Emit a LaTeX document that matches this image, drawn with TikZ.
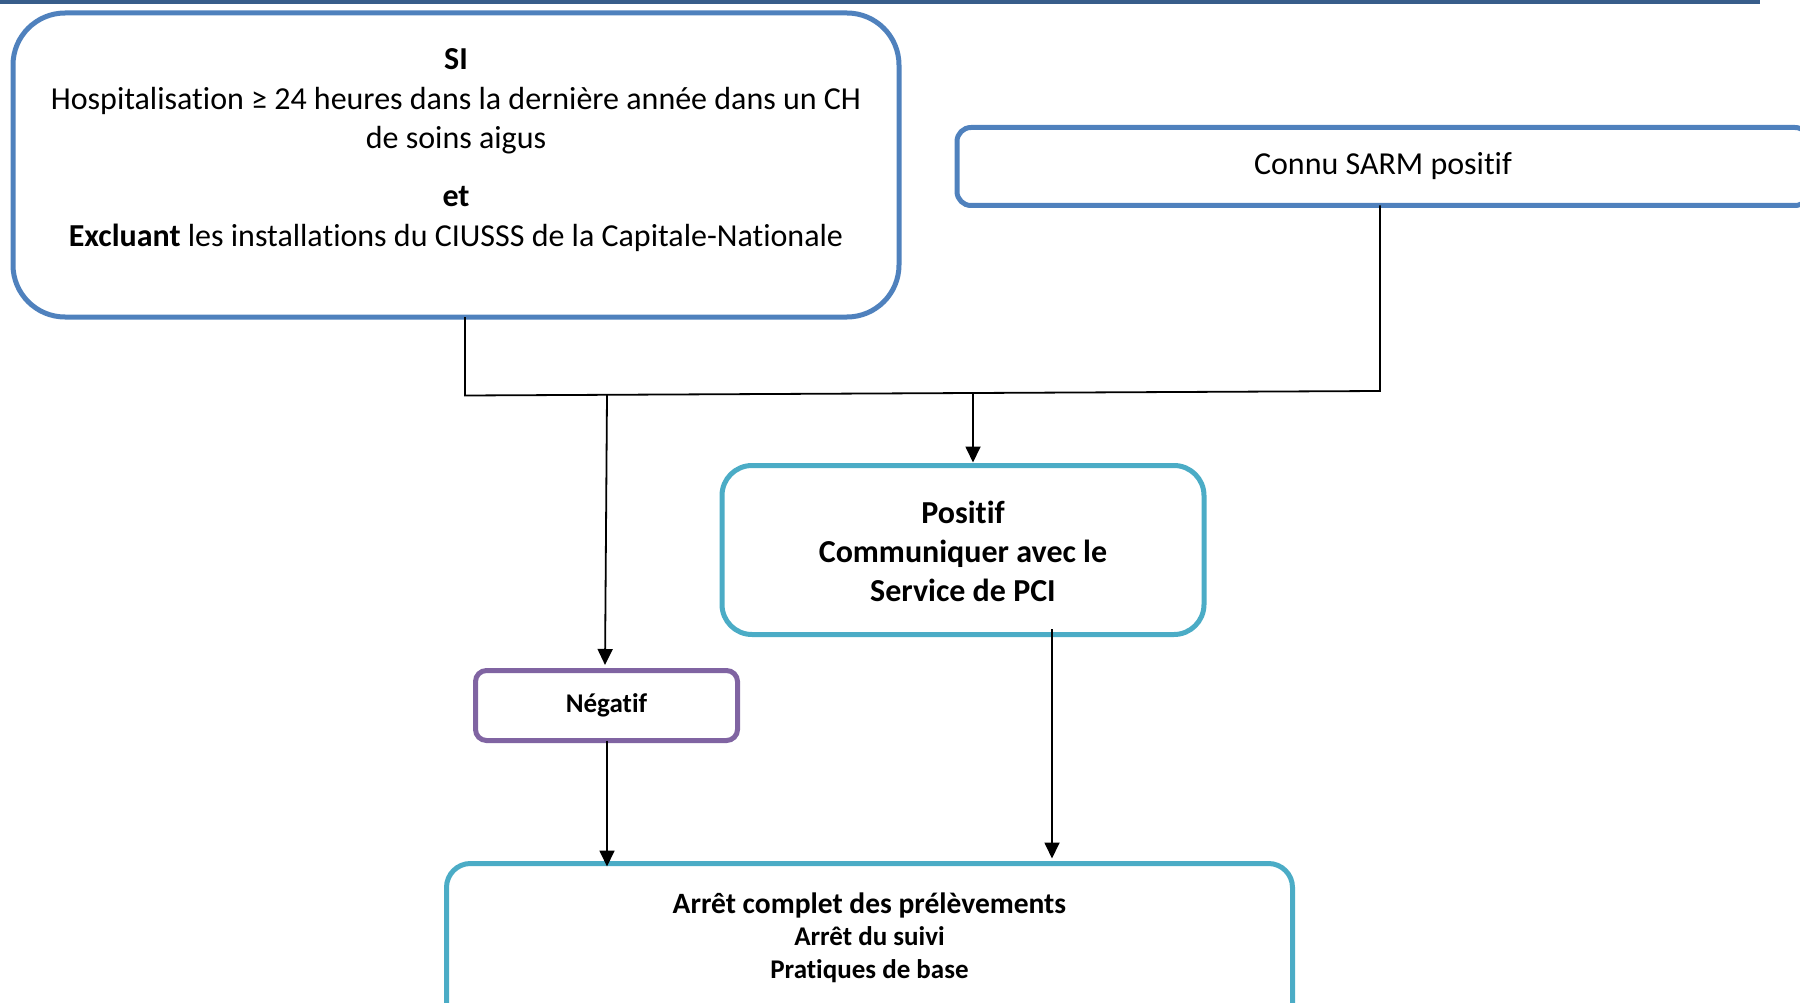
\documentclass[tikz,border=0pt]{standalone}
\usepackage{fontspec}
\setmainfont{Carlito}[Ligatures=CommonOff]
\usetikzlibrary{arrows.meta}
\definecolor{barblue}{HTML}{385D8A}
\definecolor{boxblue}{HTML}{4F81BD}
\definecolor{boxteal}{HTML}{4BACC6}
\definecolor{boxpurple}{HTML}{8064A2}
\tikzset{
  panel/.style={draw, line width=5pt, rectangle, inner sep=0pt, outer sep=0pt},
  txt/.style={anchor=base, inner sep=0pt, font=\fontsize{32}{38}\selectfont},
  txtb/.style={anchor=base, inner sep=0pt, font=\fontsize{32}{38}\selectfont\bfseries},
  txtbs/.style={anchor=base, inner sep=0pt, font=\fontsize{27}{32}\selectfont\bfseries},
  link/.style={draw=black, line width=1.8pt},
  arr/.style={link, -{Triangle[length=16pt,width=15pt]}}
}
\begin{document}
\begin{tikzpicture}[x=1pt,y=-1pt]
\useasboundingbox (0,0) rectangle (1800,1003);
\clip (0,0) rectangle (1800,1003);
\fill[barblue] (0,0) rectangle (1760,4.5);

% boxes
\node[panel, draw=boxblue, rounded corners=52pt, minimum width=886pt, minimum height=304pt] (big) at (456,165) {};
\node[panel, draw=boxblue, rounded corners=14pt, minimum width=852pt, minimum height=78pt] (connu) at (1383,166.5) {};
\node[panel, draw=boxteal, rounded corners=30pt, minimum width=482pt, minimum height=169pt] (pos) at (963,550) {};
\node[panel, draw=boxpurple, rounded corners=11pt, minimum width=262pt, minimum height=70pt] (neg) at (606.5,705.5) {};
\node[panel, draw=boxteal, rounded corners=24pt, minimum width=846pt, minimum height=200pt] (fin) at (869.5,963.5) {};

% texts
\node[txtb] (t1) at (456,69.5) {SI};
\node[txt] (t2) at (456,109.5) {Hospitalisation ≥ 24 heures dans la dernière année dans un CH};
\node[txt] (t3) at (456,148.5) {de soins aigus};
\node[txtb] (t4) at (456,207) {et};
\node[txt] (t5) at (456,246.5) {\textbf{Excluant} les installations du CIUSSS de la Capitale-Nationale};
\node[txt] (t6) at (1383,175) {Connu SARM positif};
\node[txtb] (t7) at (963,523.5) {Positif};
\node[txtb] (t8) at (963,562.5) {Communiquer avec le};
\node[txtb] (t9) at (963,601.5) {Service de PCI};
\node[txtbs] (t10) at (606.5,712) {Négatif};
\node[txtb, font=\fontsize{29.5}{35}\selectfont\bfseries] (t11) at (869.5,913) {Arrêt complet des prélèvements};
\node[txtbs] (t12) at (869.5,945.5) {Arrêt du suivi};
\node[txtbs] (t13) at (869.5,978.5) {Pratiques de base};

% connectors
\coordinate (j1) at (465,395.5);
\coordinate (j2) at (1380,391);
\coordinate (ja) at (607,395);
\coordinate (jb) at (973,393.5);
\coordinate (c1) at (1052,629);
\draw[link] (j1 |- big.south) -- (j1) -- (j2) -- (j2 |- connu.south);
\draw[arr, shorten >=3pt] (ja) -- (605,668) coordinate (negtop);
\draw[arr, shorten >=3pt] (jb) -- (pos.north -| jb);
\draw[arr, shorten >=5pt] (c1) -- (fin.north -| c1);
\draw[arr, shorten >=-3pt] (neg.south -| ja) -- (fin.north -| ja);
\end{tikzpicture}
\end{document}
